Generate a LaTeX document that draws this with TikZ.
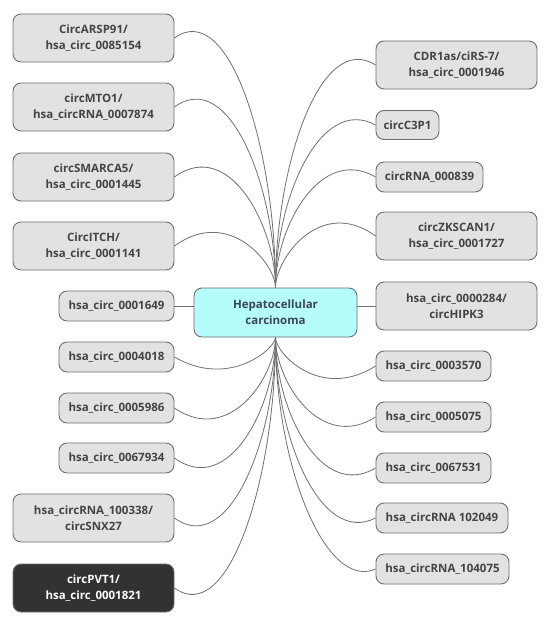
\documentclass[tikz,border=0pt]{standalone}
\usepackage{fontspec}
\setmainfont{Open Sans}
\begin{document}
\begin{tikzpicture}[x=1pt,y=-1pt,
  every node/.style={font=\fontsize{11.5}{16}\selectfont\bfseries, align=center, inner sep=2pt},
  gbox/.style={draw=boxline, fill=boxfill, text=boxtext, rounded corners=8pt, line width=0.9pt},
  dbox/.style={draw=boxline, fill=darkfill, text=white, rounded corners=8pt, line width=0.9pt},
  cbox/.style={draw=boxline, fill=cyanfill, text=centertext, rounded corners=8pt, line width=0.9pt},
  big/.style={minimum width=161pt, minimum height=48pt},
  small/.style={minimum height=30pt},
  lnk/.style={draw=linecol, line width=0.8pt}
]
\definecolor{boxline}{HTML}{6E6E6E}
\definecolor{boxfill}{HTML}{E2E2E2}
\definecolor{boxtext}{HTML}{444444}
\definecolor{darkfill}{HTML}{323232}
\definecolor{cyanfill}{HTML}{B5FCFC}
\definecolor{centertext}{HTML}{3A4652}
\definecolor{linecol}{HTML}{707070}
\useasboundingbox (0,0) rectangle (550,624);
\fill[white] (0,0) rectangle (550,624);

% center
\node[cbox, minimum width=163pt, minimum height=49pt] (hcc) at (275.5,312.5) {Hepatocellular\\carcinoma};

% left side
\node[gbox,big] (arsp) at (93.5,38) {CircARSP91/\\hsa\_circ\_0085154};
\node[gbox,big] (mto) at (93.5,107) {circMTO1/\\hsa\_circRNA\_0007874};
\node[gbox,big] (smarca) at (93.5,177) {circSMARCA5/\\hsa\_circ\_0001445};
\node[gbox,big] (itch) at (93.5,246) {CircITCH/\\hsa\_circ\_0001141};
\node[gbox,small,minimum width=115pt] (c1649) at (116.5,306) {hsa\_circ\_0001649};
\node[gbox,small,minimum width=115pt] (c4018) at (116.5,357) {hsa\_circ\_0004018};
\node[gbox,small,minimum width=115pt] (c5986) at (116.5,408) {hsa\_circ\_0005986};
\node[gbox,small,minimum width=115pt] (c67934) at (116.5,458) {hsa\_circ\_0067934};
\node[gbox,big] (snx) at (93.5,518) {hsa\_circRNA\_100338/\\circSNX27};
\node[dbox,big] (pvt) at (93.5,588) {circPVT1/\\hsa\_circ\_0001821};

% right side
\node[gbox,big] (cdr) at (456.5,65) {CDR1as/ciRS-7/\\hsa\_circ\_0001946};
\node[gbox,small,minimum width=63pt,minimum height=29pt] (c3p1) at (407.5,125) {circC3P1};
\node[gbox,small,minimum width=107pt] (c839) at (429.5,177) {circRNA\_000839};
\node[gbox,big] (zk) at (456.5,236) {circZKSCAN1/\\hsa\_circ\_0001727};
\node[gbox,big] (hipk) at (456.5,306) {hsa\_circ\_0000284/\\circHIPK3};
\node[gbox,small,minimum width=115pt] (c3570) at (433.5,366) {hsa\_circ\_0003570};
\node[gbox,small,minimum width=115pt] (c5075) at (433.5,417) {hsa\_circ\_0005075};
\node[gbox,small,minimum width=115pt] (c67531) at (433.5,468) {hsa\_circ\_0067531};
\node[gbox,small,minimum width=132pt] (c102049) at (442,518) {hsa\_circRNA 102049};
\node[gbox,small,minimum width=133pt] (c104075) at (442.5,569) {hsa\_circRNA\_104075};

% connectors, left upper
\path[lnk] (hcc.north) .. controls +(0,-138) and +(55,-40) .. (arsp.east);
\path[lnk] (hcc.north) .. controls +(0,-100) and +(55,-40) .. (mto.east);
\path[lnk] (hcc.north) .. controls +(0,-61) and +(55,-40) .. (smarca.east);
\path[lnk] (hcc.north) .. controls +(0,-23) and +(55,-40) .. (itch.east);
% left horizontal
\path[lnk] (c1649.east) -- (c1649.east -| hcc.west);
% left lower
\path[lnk] (hcc.south) .. controls +(0,11) and +(55,32) .. (c4018.east);
\path[lnk] (hcc.south) .. controls +(0,39) and +(55,38) .. (c5986.east);
\path[lnk] (hcc.south) .. controls +(0,67) and +(55,40) .. (c67934.east);
\path[lnk] (hcc.south) .. controls +(0,100) and +(55,40) .. (snx.east);
\path[lnk] (hcc.south) .. controls +(0,138) and +(55,40) .. (pvt.east);

% right upper
\path[lnk] (hcc.north) .. controls +(0,-123) and +(-55,-35) .. (cdr.west);
\path[lnk] (hcc.north) .. controls +(0,-90) and +(-55,-30) .. (c3p1.west);
\path[lnk] (hcc.north) .. controls +(0,-61) and +(-55,-32) .. (c839.west);
\path[lnk] (hcc.north) .. controls +(0,-29) and +(-55,-40) .. (zk.west);
% right horizontal
\path[lnk] (hipk.west -| hcc.east) -- (hipk.west);
% right lower
\path[lnk] (hcc.south) .. controls +(0,16) and +(-55,35) .. (c3570.west);
\path[lnk] (hcc.south) .. controls +(0,44) and +(-55,35) .. (c5075.west);
\path[lnk] (hcc.south) .. controls +(0,72) and +(-55,33) .. (c67531.west);
\path[lnk] (hcc.south) .. controls +(0,100) and +(-55,28) .. (c102049.west);
\path[lnk] (hcc.south) .. controls +(0,128) and +(-50,22) .. (c104075.west);
\end{tikzpicture}
\end{document}
